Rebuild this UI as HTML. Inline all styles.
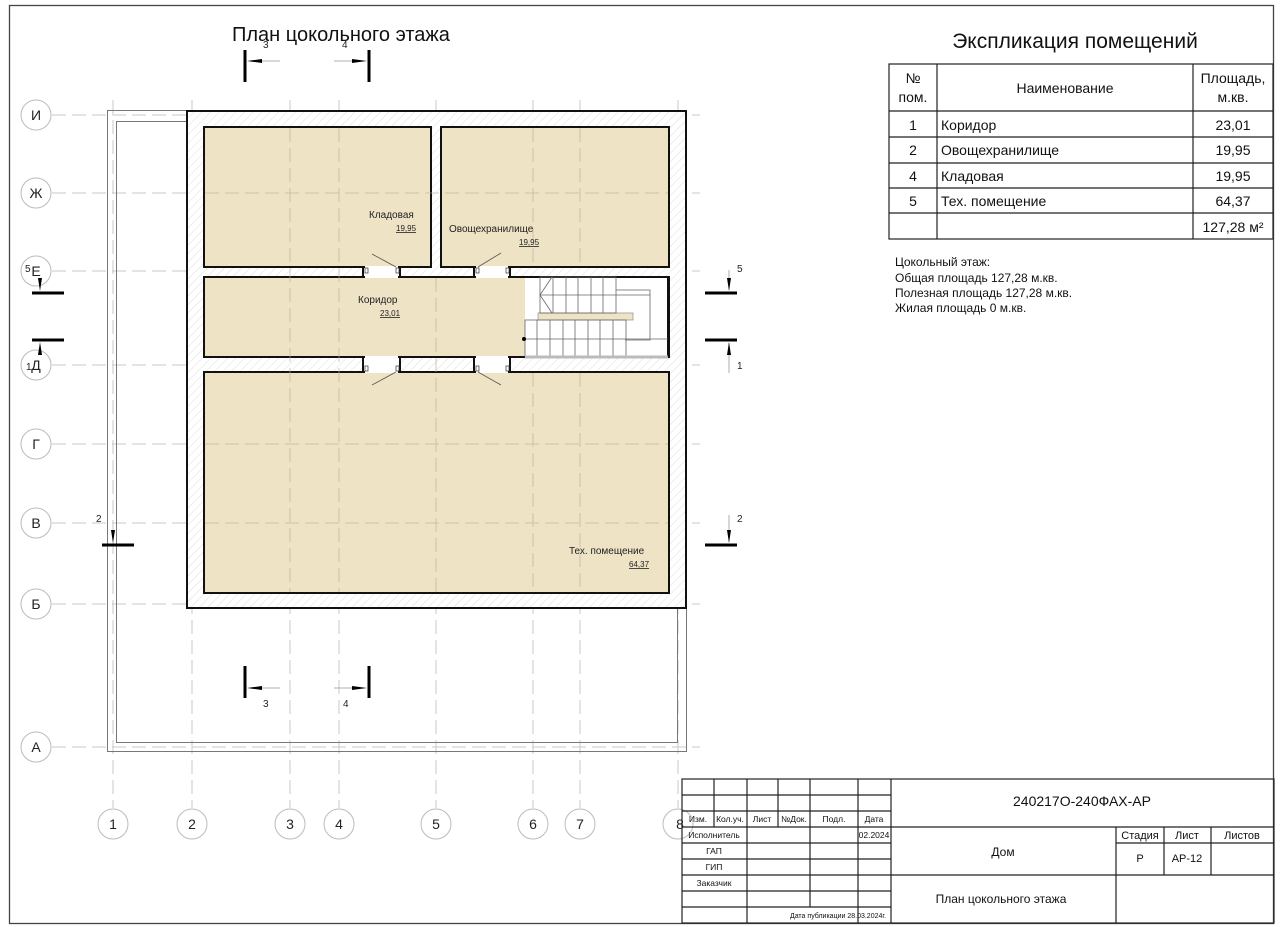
<!DOCTYPE html>
<html><head><meta charset="utf-8"><style>
html,body{margin:0;padding:0;background:#fff;}
svg{display:block;font-family:"Liberation Sans","DejaVu Sans",sans-serif;}
</style></head><body>
<svg width="1280" height="927" viewBox="0 0 1280 927" xmlns="http://www.w3.org/2000/svg">
<defs>
<pattern id="h" width="6" height="6" patternUnits="userSpaceOnUse" patternTransform="rotate(45)">
<rect width="6" height="6" fill="#fff"/><line x1="0" y1="0" x2="0" y2="6" stroke="#dedede" stroke-width="1"/>
</pattern>
</defs>
<rect x="0" y="0" width="1280" height="927" fill="#fff"/>
<rect x="9.5" y="5.5" width="1264" height="918" fill="none" stroke="#444" stroke-width="1.3"/>

<g stroke="#c8c8c8" stroke-width="1" stroke-dasharray="14,6" fill="none">
<line x1="52" y1="115" x2="700" y2="115"/>
<line x1="52" y1="193" x2="700" y2="193"/>
<line x1="52" y1="271" x2="700" y2="271"/>
<line x1="52" y1="365" x2="700" y2="365"/>
<line x1="52" y1="444" x2="700" y2="444"/>
<line x1="52" y1="523" x2="700" y2="523"/>
<line x1="52" y1="604" x2="700" y2="604"/>
<line x1="52" y1="747" x2="700" y2="747"/>
<line x1="113" y1="100" x2="113" y2="808"/>
<line x1="192" y1="100" x2="192" y2="808"/>
<line x1="290" y1="100" x2="290" y2="808"/>
<line x1="339" y1="100" x2="339" y2="808"/>
<line x1="436" y1="100" x2="436" y2="808"/>
<line x1="533" y1="100" x2="533" y2="808"/>
<line x1="580" y1="100" x2="580" y2="808"/>
<line x1="678" y1="100" x2="678" y2="808"/>
</g>

<rect x="107.5" y="110.5" width="579" height="641" fill="none" stroke="#777" stroke-width="1"/>
<rect x="116.5" y="121.5" width="561" height="621" fill="none" stroke="#777" stroke-width="1"/>

<rect x="187" y="111" width="499" height="497" fill="url(#h)" stroke="#111" stroke-width="2"/>
<g fill="#efe3c6" stroke="#111" stroke-width="2">
<rect x="204" y="127" width="227" height="140"/>
<rect x="441" y="127" width="228" height="140"/>
<rect x="204" y="277" width="465" height="80"/>
<rect x="204" y="372" width="465" height="221"/>
</g>
<!-- grid lines over rooms -->
<g stroke="#b8ad95" stroke-width="0.8" stroke-dasharray="14,6" fill="none" opacity="0.8">
<line x1="205" y1="193" x2="668" y2="193"/>
<line x1="205" y1="444" x2="668" y2="444"/>
<line x1="205" y1="523" x2="668" y2="523"/>
<line x1="290" y1="128" x2="290" y2="592"/>
<line x1="339" y1="128" x2="339" y2="592"/>
<line x1="436" y1="278" x2="436" y2="592"/>
<line x1="533" y1="128" x2="533" y2="266"/>
<line x1="533" y1="373" x2="533" y2="592"/>
<line x1="580" y1="128" x2="580" y2="266"/>
<line x1="580" y1="373" x2="580" y2="592"/>
</g>
<rect x="525" y="278" width="143" height="78" fill="#fff"/>
<line x1="668" y1="277" x2="668" y2="357" stroke="#111" stroke-width="2"/>
<rect x="538" y="313" width="95" height="7" fill="#efe3c6" stroke="#999" stroke-width="0.8"/>
<g stroke="#666" stroke-width="0.8" fill="none">
<rect x="540" y="277" width="76" height="36"/>
<line x1="553" y1="277" x2="553" y2="313"/><line x1="566" y1="277" x2="566" y2="313"/><line x1="578" y1="277" x2="578" y2="313"/><line x1="591" y1="277" x2="591" y2="313"/><line x1="603" y1="277" x2="603" y2="313"/>
<polyline points="552,277 540,295 552,313"/>
<line x1="540" y1="295" x2="650" y2="295"/>
<polyline points="616,290 650,290 650,340 625,340"/>
<rect x="525" y="320" width="101" height="37"/>
<line x1="537" y1="320" x2="537" y2="357"/><line x1="550" y1="320" x2="550" y2="357"/><line x1="563" y1="320" x2="563" y2="357"/><line x1="575" y1="320" x2="575" y2="357"/><line x1="588" y1="320" x2="588" y2="357"/><line x1="600" y1="320" x2="600" y2="357"/><line x1="613" y1="320" x2="613" y2="357"/>
<line x1="525" y1="339" x2="668" y2="339"/>
</g>
<line x1="525" y1="357" x2="668" y2="357" stroke="#bbb" stroke-width="3"/>
<circle cx="524" cy="339" r="2" fill="#000"/>
<g fill="#fff">
<rect x="365" y="266" width="33" height="12"/>
<rect x="476" y="266" width="32" height="12"/>
<rect x="365" y="356" width="33" height="17"/>
<rect x="476" y="356" width="32" height="17"/>
</g>
<g stroke="#111" stroke-width="2" fill="none">
<polyline points="363,267 363,277"/><polyline points="400,267 400,277"/>
<polyline points="474,267 474,277"/><polyline points="510,267 510,277"/>
<polyline points="363,357 363,372"/><polyline points="400,357 400,372"/>
<polyline points="474,357 474,372"/><polyline points="510,357 510,372"/>
</g>
<g stroke="#555" stroke-width="0.8">
<line x1="372" y1="254" x2="396" y2="267"/>
<line x1="478" y1="267" x2="501" y2="253"/>
<line x1="372" y1="385" x2="396" y2="372"/>
<line x1="478" y1="372" x2="501" y2="385"/>
</g>
<g fill="#fff" stroke="#333" stroke-width="0.7">
<rect x="365" y="268" width="3" height="5"/><rect x="396" y="268" width="3" height="5"/>
<rect x="476" y="268" width="3" height="5"/><rect x="506" y="268" width="3" height="5"/>
<rect x="365" y="366" width="3" height="5"/><rect x="396" y="366" width="3" height="5"/>
<rect x="476" y="366" width="3" height="5"/><rect x="506" y="366" width="3" height="5"/>
</g>

<g font-size="10" fill="#222">
<text x="369" y="218">Кладовая</text>
<text x="396" y="231" font-size="8" text-decoration="underline">19,95</text>
<text x="449" y="232">Овощехранилище</text>
<text x="519" y="245" font-size="8" text-decoration="underline">19,95</text>
<text x="358" y="303">Коридор</text>
<text x="380" y="316" font-size="8" text-decoration="underline">23,01</text>
<text x="569" y="554">Тех. помещение</text>
<text x="629" y="567" font-size="8" text-decoration="underline">64,37</text>
</g>

<g fill="#fff" stroke="#bbb" stroke-width="1">
<circle cx="36" cy="115" r="15"/><circle cx="36" cy="193" r="15"/><circle cx="36" cy="271" r="15"/><circle cx="36" cy="365" r="15"/><circle cx="36" cy="444" r="15"/><circle cx="36" cy="523" r="15"/><circle cx="36" cy="604" r="15"/><circle cx="36" cy="747" r="15"/>
<circle cx="113" cy="824" r="15"/><circle cx="192" cy="824" r="15"/><circle cx="290" cy="824" r="15"/><circle cx="339" cy="824" r="15"/><circle cx="436" cy="824" r="15"/><circle cx="533" cy="824" r="15"/><circle cx="580" cy="824" r="15"/><circle cx="678" cy="824" r="15"/>
</g>
<g font-size="14" fill="#222" text-anchor="middle">
<text x="36" y="120">И</text><text x="36" y="198">Ж</text><text x="36" y="276">Е</text><text x="36" y="370">Д</text><text x="36" y="449">Г</text><text x="36" y="528">В</text><text x="36" y="609">Б</text><text x="36" y="752">А</text>
<text x="113" y="829">1</text><text x="192" y="829">2</text><text x="290" y="829">3</text><text x="339" y="829">4</text><text x="436" y="829">5</text><text x="533" y="829">6</text><text x="580" y="829">7</text><text x="680" y="829">8</text>
</g>

<g stroke="#000" stroke-width="3">
<line x1="245" y1="50" x2="245" y2="82"/><line x1="369" y1="50" x2="369" y2="82"/>
<line x1="245" y1="666" x2="245" y2="698"/><line x1="369" y1="666" x2="369" y2="698"/>
<line x1="32" y1="293" x2="64" y2="293"/><line x1="32" y1="340" x2="64" y2="340"/>
<line x1="705" y1="293" x2="737" y2="293"/><line x1="705" y1="340" x2="737" y2="340"/>
<line x1="102" y1="545" x2="134" y2="545"/><line x1="705" y1="545" x2="737" y2="545"/>
</g>
<g stroke="#999" stroke-width="0.8">
<line x1="250" y1="61" x2="280" y2="61"/><line x1="334" y1="61" x2="364" y2="61"/>
<line x1="250" y1="688" x2="280" y2="688"/><line x1="334" y1="688" x2="364" y2="688"/>
<line x1="729" y1="270" x2="729" y2="290"/><line x1="729" y1="343" x2="729" y2="373"/>
<line x1="729" y1="515" x2="729" y2="542"/>
</g>
<g fill="#000">
<polygon points="247,61 262,59 262,63"/><polygon points="367,61 352,59 352,63"/>
<polygon points="247,688 262,686 262,690"/><polygon points="367,688 352,686 352,690"/>
<polygon points="40,291 38,278 42,278"/><polygon points="40,342 38,355 42,355"/>
<polygon points="729,291 727,278 731,278"/><polygon points="729,342 727,355 731,355"/>
<polygon points="113,543 111,530 115,530"/><polygon points="729,543 727,530 731,530"/>
</g>
<g font-size="10" fill="#222">
<text x="263" y="48">3</text><text x="342" y="48">4</text>
<text x="263" y="707">3</text><text x="343" y="707">4</text>
<text x="25" y="272">5</text><text x="26" y="370">1</text>
<text x="737" y="272">5</text><text x="737" y="369">1</text>
<text x="96" y="522">2</text><text x="737" y="522">2</text>
</g>

<text x="232" y="41" font-size="20" fill="#111">План цокольного этажа</text>
<text x="1075" y="48" font-size="21" fill="#111" text-anchor="middle">Экспликация помещений</text>

<g stroke="#222" stroke-width="1.2" fill="none">
<rect x="889" y="64" width="384" height="175"/>
<line x1="937" y1="64" x2="937" y2="239"/><line x1="1193" y1="64" x2="1193" y2="239"/>
<line x1="889" y1="111" x2="1273" y2="111"/><line x1="889" y1="137" x2="1273" y2="137"/><line x1="889" y1="163" x2="1273" y2="163"/><line x1="889" y1="188" x2="1273" y2="188"/><line x1="889" y1="213" x2="1273" y2="213"/>
</g>
<g font-size="14" fill="#111">
<text x="913" y="83" text-anchor="middle">№</text><text x="913" y="102" text-anchor="middle">пом.</text>
<text x="1065" y="93" text-anchor="middle">Наименование</text>
<text x="1233" y="83" text-anchor="middle">Площадь,</text><text x="1233" y="102" text-anchor="middle">м.кв.</text>
<text x="913" y="130" text-anchor="middle">1</text><text x="941" y="130">Коридор</text><text x="1233" y="130" text-anchor="middle">23,01</text>
<text x="913" y="155" text-anchor="middle">2</text><text x="941" y="155">Овощехранилище</text><text x="1233" y="155" text-anchor="middle">19,95</text>
<text x="913" y="181" text-anchor="middle">4</text><text x="941" y="181">Кладовая</text><text x="1233" y="181" text-anchor="middle">19,95</text>
<text x="913" y="206" text-anchor="middle">5</text><text x="941" y="206">Тех. помещение</text><text x="1233" y="206" text-anchor="middle">64,37</text>
<text x="1233" y="232" text-anchor="middle">127,28 м²</text>
</g>
<g font-size="12" fill="#111">
<text x="895" y="266">Цокольный этаж:</text>
<text x="895" y="282">Общая площадь 127,28 м.кв.</text>
<text x="895" y="297">Полезная площадь 127,28 м.кв.</text>
<text x="895" y="312">Жилая площадь 0 м.кв.</text>
</g>

<g stroke="#222" stroke-width="1.2" fill="none">
<rect x="682" y="779" width="592" height="144"/>
<line x1="891" y1="779" x2="891" y2="923"/>
<line x1="682" y1="795" x2="891" y2="795"/><line x1="682" y1="811" x2="891" y2="811"/>
<line x1="682" y1="827" x2="1274" y2="827"/>
<line x1="682" y1="843" x2="891" y2="843"/><line x1="682" y1="859" x2="891" y2="859"/>
<line x1="682" y1="875" x2="1274" y2="875"/>
<line x1="682" y1="891" x2="891" y2="891"/><line x1="682" y1="907" x2="891" y2="907"/>
<line x1="1116" y1="843" x2="1274" y2="843"/>
<line x1="714" y1="779" x2="714" y2="827"/>
<line x1="747" y1="779" x2="747" y2="923"/>
<line x1="778" y1="779" x2="778" y2="827"/>
<line x1="810" y1="779" x2="810" y2="907"/>
<line x1="858" y1="779" x2="858" y2="923"/>
<line x1="1116" y1="827" x2="1116" y2="923"/>
<line x1="1164" y1="827" x2="1164" y2="875"/>
<line x1="1211" y1="827" x2="1211" y2="875"/>
</g>
<g font-size="8.5" fill="#111" text-anchor="middle">
<text x="698" y="822">Изм.</text><text x="730" y="822">Кол.уч.</text><text x="762" y="822">Лист</text><text x="794" y="822">№Док.</text><text x="834" y="822">Подл.</text><text x="874" y="822">Дата</text>
<text x="714" y="838">Исполнитель</text><text x="874" y="838">02.2024</text>
<text x="714" y="854">ГАП</text><text x="714" y="870">ГИП</text><text x="714" y="886">Заказчик</text>
<text x="838" y="918" font-size="7">Дата публикации 28.03.2024г.</text>
</g>
<g fill="#111" text-anchor="middle">
<text x="1082" y="806" font-size="14">240217О-240ФАХ-АР</text>
<text x="1003" y="856" font-size="12">Дом</text>
<text x="1001" y="903" font-size="12">План цокольного этажа</text>
<text x="1140" y="839" font-size="11">Стадия</text><text x="1187" y="839" font-size="11">Лист</text><text x="1242" y="839" font-size="11">Листов</text>
<text x="1140" y="862" font-size="11">Р</text><text x="1187" y="862" font-size="11">АР-12</text>
</g>
</svg>
</body></html>
